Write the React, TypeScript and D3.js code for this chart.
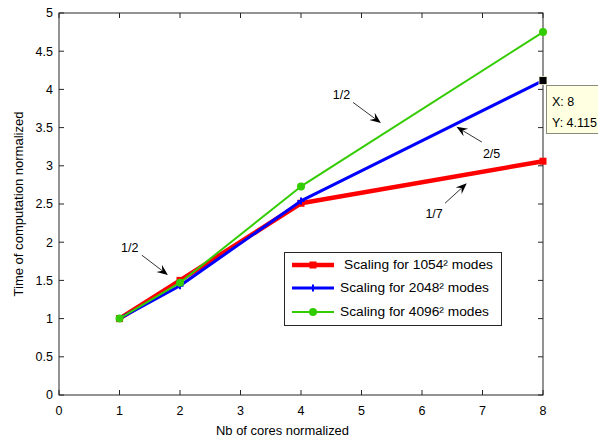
import React from "react";
import * as d3 from "d3";

const W = 598;
const H = 438;
const margin = { left: 59, right: 55, top: 13, bottom: 43 };

const cores = [1, 2, 4, 8];
const scaling1054 = [1, 1.5, 2.51, 3.06];
const scaling2048 = [1, 1.43, 2.54, 4.115];
const scaling4096 = [1, 1.47, 2.73, 4.75];

const xTicks = [0, 1, 2, 3, 4, 5, 6, 7, 8];
const yTicks = [0, 0.5, 1, 1.5, 2, 2.5, 3, 3.5, 4, 4.5, 5];

const seriesNames = ["Scaling for 1054² modes", "Scaling for 2048² modes", "Scaling for 4096² modes"];
const seriesColors = ["#ff0000", "#0000ff", "#33cc00"];

// annotations: label position and arrow tail/head in data coords
const annLabels = ["1/2", "2/5", "1/7", "1/2"];
const annText = [[4.67, 3.93], [7.15, 3.16], [6.2, 2.37], [1.17, 1.93]];
const annTail = [[4.86, 3.83], [6.99, 3.31], [6.38, 2.51], [1.37, 1.83]];
const annHead = [[5.32, 3.56], [6.57, 3.51], [6.74, 2.77], [1.8, 1.57]];

const tipX = 8;
const tipY = 4.115;

export default function App() {
  const pw = W - margin.left - margin.right;
  const ph = H - margin.top - margin.bottom;
  const x = d3.scaleLinear().domain([0, 8]).range([margin.left, margin.left + pw]);
  const y = d3.scaleLinear().domain([0, 5]).range([margin.top + ph, margin.top]);
  const line = d3
    .line<[number, number]>()
    .x((d) => x(d[0]))
    .y((d) => y(d[1]));
  const data = [scaling1054, scaling2048, scaling4096];
  const widths = [4.5, 3, 2];
  const font = "'Liberation Sans', Arial, sans-serif";
  const fs = 12.5;
  const axisColor = "#262626";
  const x0 = x(0), x1 = x(8), y0 = y(0), y1 = y(5);

  const marker = (i: number, cx: number, cy: number, key: string) => {
    if (i === 0) return <rect key={key} x={cx - 3.5} y={cy - 3.5} width={7} height={7} fill={seriesColors[0]} />;
    if (i === 1)
      return (
        <path key={key} d={`M${cx - 3.5},${cy}H${cx + 3.5}M${cx},${cy - 3.5}V${cy + 3.5}`} stroke={seriesColors[1]} strokeWidth={2} />
      );
    return <circle key={key} cx={cx} cy={cy} r={4} fill={seriesColors[2]} />;
  };

  const arrow = (i: number) => {
    const tx = x(annTail[i][0]), ty = y(annTail[i][1]);
    const hx = x(annHead[i][0]), hy = y(annHead[i][1]);
    const ang = Math.atan2(hy - ty, hx - tx);
    const L = 11, Wd = 4.5, back = 7;
    const ux = Math.cos(ang), uy = Math.sin(ang);
    const px = -uy, py = ux;
    const bx = hx - ux * L, by = hy - uy * L;
    const mx = hx - ux * back, my = hy - uy * back;
    const head = `M${hx},${hy}L${bx + px * Wd},${by + py * Wd}L${mx},${my}L${bx - px * Wd},${by - py * Wd}Z`;
    return (
      <g key={"a" + i}>
        <line x1={tx} y1={ty} x2={mx} y2={my} stroke="#000" strokeWidth={0.8} />
        <path d={head} fill="#000" />
        <text x={x(annText[i][0])} y={y(annText[i][1])} dy="0.35em" textAnchor="middle" fontSize={fs} fontFamily={font}>
          {annLabels[i]}
        </text>
      </g>
    );
  };

  const lgX = 284, lgY = 252, lgW = 217, lgH = 73;
  const rowY = [265, 288, 312];
  const textX = [344, 340, 340];

  return (
    <svg width={W} height={H} style={{ position: "absolute", left: 0, top: 0, background: "#fff" }}>
      <rect x={0} y={0} width={W} height={H} fill="#fff" />
      {/* frame */}
      <rect x={x0} y={y1} width={x1 - x0} height={y0 - y1} fill="none" stroke={axisColor} strokeWidth={1} />
      {xTicks.map((t) => (
        <g key={"xt" + t}>
          <line x1={x(t)} x2={x(t)} y1={y0} y2={y0 - 5} stroke={axisColor} />
          <line x1={x(t)} x2={x(t)} y1={y1} y2={y1 + 5} stroke={axisColor} />
          <text x={x(t)} y={y0 + 20} textAnchor="middle" fontSize={fs} fontFamily={font} fill="#000">
            {t}
          </text>
        </g>
      ))}
      {yTicks.map((t) => (
        <g key={"yt" + t}>
          <line x1={x0} x2={x0 + 5} y1={y(t)} y2={y(t)} stroke={axisColor} />
          <line x1={x1} x2={x1 - 5} y1={y(t)} y2={y(t)} stroke={axisColor} />
          <text x={x0 - 6} y={y(t)} dy="0.35em" textAnchor="end" fontSize={fs} fontFamily={font} fill="#000">
            {t}
          </text>
        </g>
      ))}
      <text x={282.5} y={435} textAnchor="middle" fontSize={fs} fontFamily={font} textLength={133} lengthAdjust="spacingAndGlyphs">
        Nb of cores normalized
      </text>
      <text
        transform={`translate(23,${(y0 + y1) / 2}) rotate(-90)`}
        textAnchor="middle"
        fontSize={fs}
        fontFamily={font}
        textLength={185}
        lengthAdjust="spacingAndGlyphs"
      >
        Time of computation normalized
      </text>

      {data.map((vals, i) => (
        <g key={"s" + i}>
          <path
            d={line(cores.map((c, j) => [c, vals[j]] as [number, number])) || ""}
            fill="none"
            stroke={seriesColors[i]}
            strokeWidth={widths[i]}
            strokeLinejoin="round"
          />
          {cores.map((c, j) => marker(i, x(c), y(vals[j]), `m${i}-${j}`))}
        </g>
      ))}

      {annLabels.map((_, i) => arrow(i))}

      {/* data tip */}
      <rect x={x(tipX) - 4} y={y(tipY) - 4} width={8} height={8} fill="#000" stroke="#ffffe1" strokeWidth={0.8} />
      <rect x={546.5} y={85.5} width={60} height={48} fill="#ffffe1" stroke="#8a8a7a" strokeWidth={1} />
      <text x={552} y={106} fontSize={fs} fontFamily={font}>
        X: {tipX}
      </text>
      <text x={552} y={127} fontSize={fs} fontFamily={font}>
        Y: {tipY}
      </text>

      {/* legend */}
      <rect x={lgX + 0.5} y={lgY + 0.5} width={lgW} height={lgH} fill="#fff" stroke={axisColor} strokeWidth={1} />
      {seriesNames.map((n, i) => (
        <g key={"lg" + i}>
          <line x1={292} x2={334} y1={rowY[i]} y2={rowY[i]} stroke={seriesColors[i]} strokeWidth={widths[i]} />
          {marker(i, 313, rowY[i], "lm" + i)}
          <text x={textX[i]} y={rowY[i]} dy="0.35em" fontSize={fs} fontFamily={font} textLength={149} lengthAdjust="spacingAndGlyphs">
            {n}
          </text>
        </g>
      ))}
    </svg>
  );
}
